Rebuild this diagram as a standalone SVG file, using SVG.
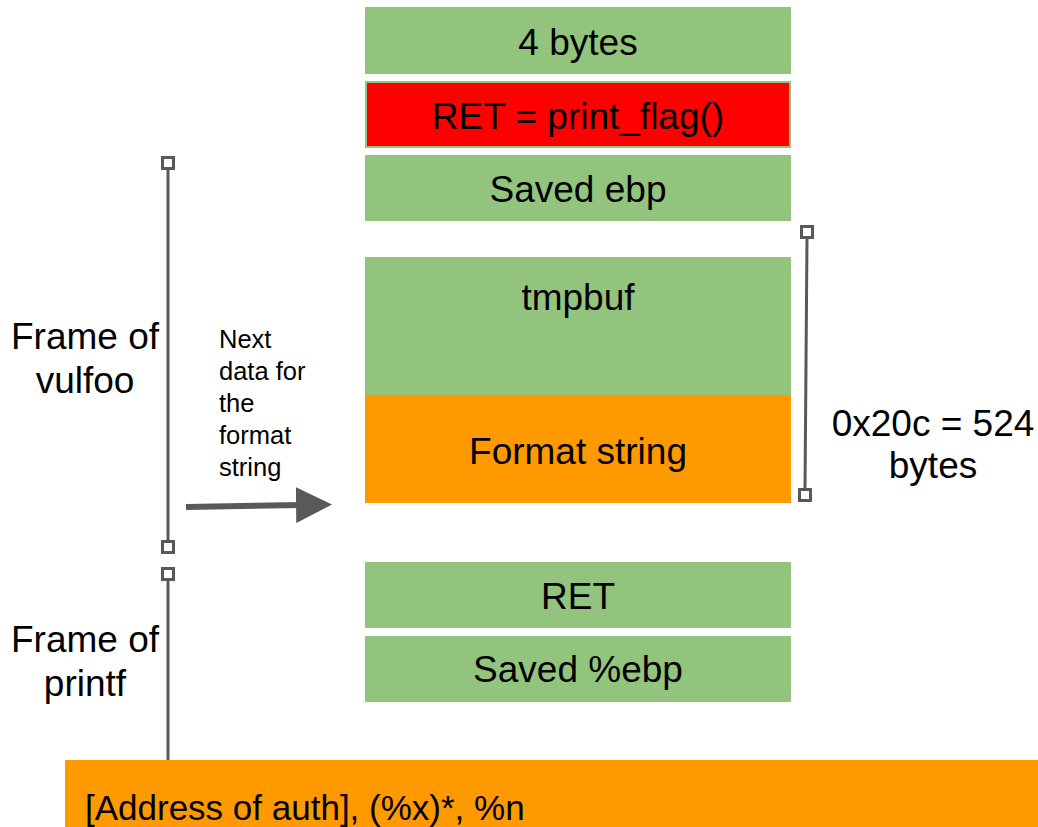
<svg xmlns="http://www.w3.org/2000/svg" width="1038" height="827" viewBox="0 0 1038 827">
  <style>
    .t { font-family: "Liberation Sans", Arial, sans-serif; fill: #000; }
    .big { font-size: 37px; }
    .pay { font-size: 35px; }
    .small { font-size: 25.5px; }
    .green { fill: #93c47d; }
    .orange { fill: #ff9900; }
    .line { stroke: #595959; stroke-width: 3; fill: none; }
    .cap { fill: #fff; stroke: #595959; stroke-width: 3; }
  </style>
  <defs>
    <marker id="arrow" markerWidth="6" markerHeight="6" refX="1" refY="3" orient="auto" markerUnits="strokeWidth">
      <path d="M0,0 L6,3 L0,6 Z" fill="#595959"/>
    </marker>
  </defs>
  <rect width="1038" height="827" fill="#fff"/>

  <!-- stack slots -->
  <g id="slot-4bytes">
    <rect class="green" x="365" y="7" width="426" height="67"/>
    <text class="t big" x="578" y="55" text-anchor="middle">4 bytes</text>
  </g>
  <g id="slot-ret-overwrite">
    <rect class="green" x="365" y="81" width="426" height="67"/>
    <rect fill="#ff0000" x="367" y="83" width="422" height="63"/>
    <text class="t big" x="578" y="129" text-anchor="middle">RET = print_flag()</text>
  </g>
  <g id="slot-saved-ebp">
    <rect class="green" x="365" y="155" width="426" height="66"/>
    <text class="t big" x="578" y="202" text-anchor="middle">Saved ebp</text>
  </g>
  <g id="slot-tmpbuf">
    <rect class="green" x="365" y="257" width="426" height="139"/>
    <text class="t big" x="578" y="310" text-anchor="middle">tmpbuf</text>
  </g>
  <g id="slot-format-string">
    <rect class="orange" x="365" y="395" width="426" height="108"/>
    <text class="t big" x="578" y="464" text-anchor="middle">Format string</text>
  </g>
  <g id="slot-printf-ret">
    <rect class="green" x="365" y="562" width="426" height="66"/>
    <text class="t big" x="578" y="609" text-anchor="middle">RET</text>
  </g>
  <g id="slot-printf-ebp">
    <rect class="green" x="365" y="636" width="426" height="66"/>
    <text class="t big" x="578" y="682" text-anchor="middle">Saved %ebp</text>
  </g>
  <g id="payload">
    <rect class="orange" x="65" y="760" width="973" height="67"/>
    <text class="t pay" x="85" y="820">[Address of auth], (%x)*, %n</text>
  </g>

  <!-- labels -->
  <g id="label-vulfoo">
    <text class="t big" x="85" y="349" text-anchor="middle">Frame of</text>
    <text class="t big" x="85" y="393" text-anchor="middle">vulfoo</text>
  </g>
  <g id="label-printf">
    <text class="t big" x="85" y="652" text-anchor="middle">Frame of</text>
    <text class="t big" x="85" y="696" text-anchor="middle">printf</text>
  </g>
  <g id="label-next-data">
    <text class="t small" x="219" y="348">Next</text>
    <text class="t small" x="219" y="380">data for</text>
    <text class="t small" x="219" y="412">the</text>
    <text class="t small" x="219" y="444">format</text>
    <text class="t small" x="219" y="476">string</text>
  </g>
  <g id="label-size">
    <text class="t big" x="933" y="436" text-anchor="middle">0x20c = 524</text>
    <text class="t big" x="933" y="478" text-anchor="middle">bytes</text>
  </g>

  <!-- connectors -->
  <g id="connectors">
    <line class="line" x1="168" y1="168" x2="168" y2="541"/>
    <rect class="cap" x="162.5" y="157.5" width="11" height="11"/>
    <rect class="cap" x="162.5" y="541.5" width="11" height="11"/>

    <line class="line" x1="168" y1="580" x2="168" y2="760"/>
    <rect class="cap" x="162.5" y="568.5" width="11" height="11"/>

    <line class="line" x1="807" y1="238" x2="805" y2="489"/>
    <rect class="cap" x="801.5" y="226.5" width="11" height="11"/>
    <rect class="cap" x="799.5" y="489.5" width="11" height="11"/>

    <line x1="186" y1="507" x2="302" y2="505" stroke="#595959" stroke-width="6" marker-end="url(#arrow)"/>
  </g>
</svg>
